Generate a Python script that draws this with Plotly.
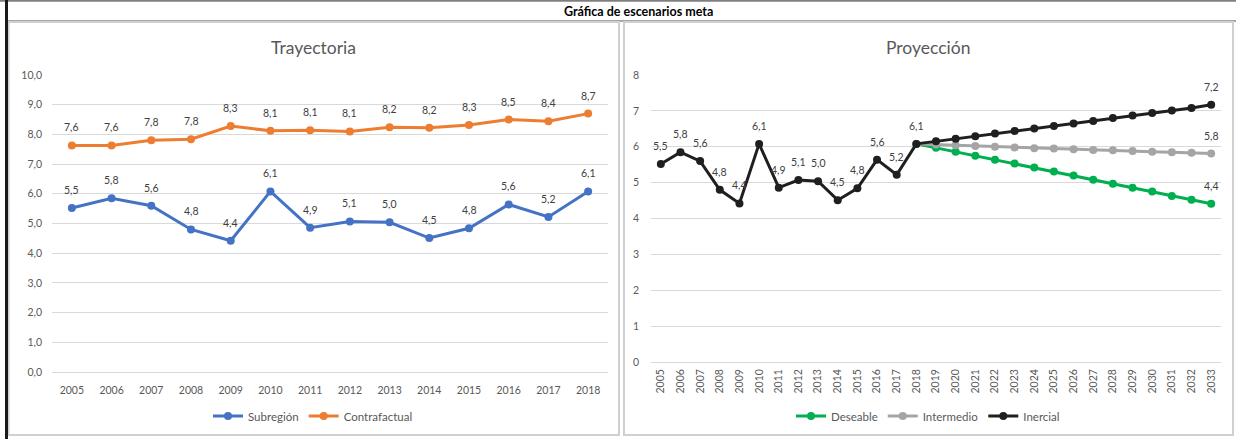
import plotly.graph_objects as go

# ---------------- data ----------------
years_hist = [str(y) for y in range(2005, 2019)]
years_all = [str(y) for y in range(2005, 2034)]
years_proj = [str(y) for y in range(2018, 2034)]

subregion = [5.52, 5.85, 5.6, 4.8, 4.42, 6.08, 4.86, 5.07, 5.04, 4.51, 4.84, 5.64, 5.22, 6.08]
contrafactual = [7.63, 7.63, 7.8, 7.84, 8.28, 8.12, 8.14, 8.1, 8.24, 8.22, 8.32, 8.5, 8.44, 8.7]

inercial_proj = [6.15, 6.22, 6.29, 6.37, 6.44, 6.51, 6.58, 6.65, 6.72, 6.8, 6.87, 6.94, 7.01, 7.08, 7.17]
inercial = subregion + inercial_proj
intermedio = [6.08, 6.06, 6.04, 6.02, 6.0, 5.98, 5.96, 5.95, 5.93, 5.91, 5.9, 5.88, 5.86, 5.85, 5.83, 5.81]
deseable = [6.08, 5.97, 5.86, 5.75, 5.64, 5.53, 5.42, 5.31, 5.2, 5.08, 4.97, 4.86, 4.75, 4.63, 4.52, 4.41]

C_BLUE, C_ORANGE = "#4472C4", "#ED7D31"
C_GREEN, C_GRAY, C_BLACK = "#00B050", "#A5A5A5", "#1F1F1F"
LBL = "#404040"
FONT = "Lato"

W, H = 1236, 439


def px(x):
    return x / W


def py(y):
    return 1 - y / H


def fmt(v):
    return f"{v:.1f}".replace(".", ",")


fig = go.Figure()
annots = []
LABEL_FONT = dict(family=FONT, size=10.5, color=LBL)

# ---------------- left chart ----------------
for name, vals, col in [("Subregión", subregion, C_BLUE), ("Contrafactual", contrafactual, C_ORANGE)]:
    fig.add_trace(go.Scatter(
        x=years_hist, y=vals, name=name, mode="lines+markers",
        line=dict(color=col, width=3), marker=dict(color=col, size=8),
        xaxis="x", yaxis="y", legend="legend", cliponaxis=False,
    ))
    for xv, yv in zip(years_hist, vals):
        annots.append(dict(x=years_hist.index(xv), y=yv, xref="x", yref="y", text=fmt(yv),
                           showarrow=False, yshift=18, xanchor="center", yanchor="middle",
                           font=LABEL_FONT))

# ---------------- right chart ----------------
for name, xs, vals, col, nh in [
    ("Deseable", years_proj, deseable, C_GREEN, 0),
    ("Intermedio", years_proj, intermedio, C_GRAY, 0),
    ("Inercial", years_all, inercial, C_BLACK, len(subregion)),
]:
    fig.add_trace(go.Scatter(
        x=xs, y=vals, name=name, mode="lines+markers",
        line=dict(color=col, width=3), marker=dict(color=col, size=8),
        xaxis="x2", yaxis="y2", legend="legend2", cliponaxis=False,
    ))
    for i, (xv, yv) in enumerate(zip(xs, vals)):
        if i < nh or i == len(vals) - 1:
            annots.append(dict(x=years_all.index(xv), y=yv, xref="x2", yref="y2", text=fmt(yv),
                               showarrow=False, yshift=18, xanchor="center", yanchor="middle",
                               font=LABEL_FONT))

grid = "#D9D9D9"
tickfont = dict(family=FONT, size=10.5, color="#595959")

fig.update_layout(
    width=W, height=H,
    margin=dict(l=0, r=0, t=0, b=0, pad=0, autoexpand=False),
    paper_bgcolor="white", plot_bgcolor="white",
    separators=",.",
    font=dict(family=FONT, color=LBL),
    xaxis=dict(domain=[px(52), px(608)], type="category", categoryorder="array",
               categoryarray=years_hist, range=[-0.5, len(years_hist) - 0.5],
               anchor="y", showgrid=False, showline=False,
               ticks="", tickfont=tickfont, ticklabelstandoff=10, automargin=False),
    yaxis=dict(domain=[py(372), py(75)], range=[0, 10], dtick=1, tickformat=".1f",
               anchor="x", showgrid=True, gridcolor=grid, gridwidth=1,
               zeroline=True, zerolinecolor=grid, zerolinewidth=1, automargin=False,
               ticks="", tickfont=tickfont, ticklabelstandoff=9, showline=False),
    xaxis2=dict(domain=[px(651), px(1221)], type="category", categoryorder="array",
                categoryarray=years_all, range=[-0.5, len(years_all) - 0.5],
                anchor="y2", showgrid=False, showline=False,
                ticks="", tickangle=-90, tickfont=tickfont, ticklabelstandoff=4, automargin=False),
    yaxis2=dict(domain=[py(362), py(75)], range=[0, 8], dtick=1,
                anchor="x2", showgrid=True, gridcolor=grid, gridwidth=1,
                zeroline=True, zerolinecolor=grid, zerolinewidth=1, automargin=False,
                ticks="", tickfont=tickfont, ticklabelstandoff=11, showline=False),
    legend=dict(orientation="h", x=px(313), xanchor="center", y=py(416), yanchor="middle",
                font=dict(family=FONT, size=11.5, color="#595959"), itemwidth=30,
                bgcolor="rgba(0,0,0,0)"),
    legend2=dict(orientation="h", x=px(928), xanchor="center", y=py(416), yanchor="middle",
                 font=dict(family=FONT, size=11.5, color="#595959"), itemwidth=30,
                 bgcolor="rgba(0,0,0,0)"),
    showlegend=True,
)

# titles
annots.append(dict(text="Gráfica de escenarios meta", x=px(638), y=py(12), xref="paper", yref="paper",
                   xanchor="center", yanchor="middle", showarrow=False,
                   font=dict(family=FONT, size=12.5, color="#000000", weight="bold")))
annots.append(dict(text="Trayectoria", x=px(313), y=py(47), xref="paper", yref="paper",
                   xanchor="center", yanchor="middle", showarrow=False,
                   font=dict(family=FONT, size=17.5, color="#595959")))
annots.append(dict(text="Proyección", x=px(928), y=py(47), xref="paper", yref="paper",
                   xanchor="center", yanchor="middle", showarrow=False,
                   font=dict(family=FONT, size=17.5, color="#595959")))
fig.update_layout(annotations=annots)

# frame
shapes = [
    dict(type="line", x0=0, x1=1, y0=py(0.8), y1=py(0.8), line=dict(color="#7F7F7F", width=2)),
    dict(type="line", x0=px(8), x1=1, y0=py(21), y1=py(21), line=dict(color="#A6A6A6", width=2)),
    dict(type="rect", x0=px(8.5), x1=px(619), y0=py(435), y1=py(22), line=dict(color="#D0D0D0", width=2)),
    dict(type="rect", x0=px(624), x1=px(1233), y0=py(435), y1=py(22), line=dict(color="#D0D0D0", width=2)),
    dict(type="line", x0=px(6.5), x1=px(6.5), y0=0, y1=1, line=dict(color="#1A1A1A", width=3)),
]
for s in shapes:
    s.update(xref="paper", yref="paper", layer="above")
fig.update_layout(shapes=shapes)

fig.write_html(
    "out.html",
    config={"responsive": False, "displayModeBar": False},
    post_script="document.body.style.margin='0';document.body.style.overflow='hidden';",
)
